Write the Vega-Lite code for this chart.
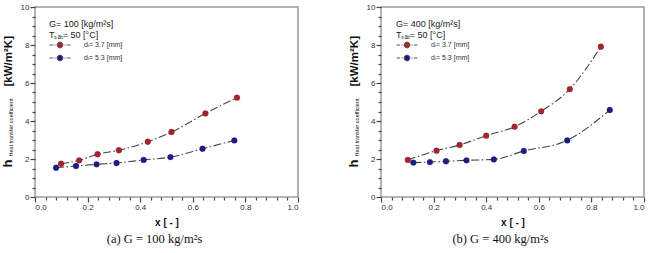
{
  "$schema": "https://vega.github.io/schema/vega-lite/v6.json",
  "background": "white",
  "padding": {"left": 0, "top": 2, "right": 4, "bottom": 2},
  "spacing": 46,
  "resolve": {"scale": {"fill": "independent"}, "legend": {"fill": "independent"}},
  "config": {
    "font": "Liberation Sans",
    "view": {"stroke": "#9a9a9a", "strokeWidth": 1.5},
    "axis": {"grid": false, "domain": false, "ticks": true, "tickColor": "#444", "tickWidth": 1.2, "tickOpacity": 1, "labelColor": "#333", "labelFontSize": 8, "titleColor": "#111"}
  },
  "datasets": {
    "g100": [
      {"d": "3.7", "x": 0.099, "h": 1.75}, {"d": "3.7", "x": 0.168, "h": 1.93}, {"d": "3.7", "x": 0.238, "h": 2.25}, {"d": "3.7", "x": 0.319, "h": 2.46},
      {"d": "3.7", "x": 0.429, "h": 2.91}, {"d": "3.7", "x": 0.519, "h": 3.42}, {"d": "3.7", "x": 0.648, "h": 4.40}, {"d": "3.7", "x": 0.768, "h": 5.23},
      {"d": "5.3", "x": 0.080, "h": 1.54}, {"d": "5.3", "x": 0.156, "h": 1.63}, {"d": "5.3", "x": 0.234, "h": 1.72}, {"d": "5.3", "x": 0.310, "h": 1.79},
      {"d": "5.3", "x": 0.413, "h": 1.95}, {"d": "5.3", "x": 0.515, "h": 2.10}, {"d": "5.3", "x": 0.637, "h": 2.54}, {"d": "5.3", "x": 0.758, "h": 2.98}
    ],
    "g400": [
      {"d": "3.7", "x": 0.102, "h": 1.95}, {"d": "3.7", "x": 0.211, "h": 2.44}, {"d": "3.7", "x": 0.299, "h": 2.74}, {"d": "3.7", "x": 0.400, "h": 3.23},
      {"d": "3.7", "x": 0.508, "h": 3.70}, {"d": "3.7", "x": 0.609, "h": 4.51}, {"d": "3.7", "x": 0.718, "h": 5.68}, {"d": "3.7", "x": 0.836, "h": 7.91},
      {"d": "5.3", "x": 0.123, "h": 1.81}, {"d": "5.3", "x": 0.186, "h": 1.84}, {"d": "5.3", "x": 0.247, "h": 1.88}, {"d": "5.3", "x": 0.325, "h": 1.93},
      {"d": "5.3", "x": 0.429, "h": 1.98}, {"d": "5.3", "x": 0.543, "h": 2.42}, {"d": "5.3", "x": 0.708, "h": 2.98}, {"d": "5.3", "x": 0.870, "h": 4.58}
    ]
  },
  "hconcat": [
    {
      "width": 263,
      "height": 190,
      "data": {"name": "g100"},
      "title": {"text": "(a) G = 100 kg/m²s", "orient": "bottom", "anchor": "middle", "dx": -12, "offset": 6, "font": "Liberation Serif", "fontSize": 12.5, "fontWeight": "normal", "color": "#111"},
      "resolve": {"axis": {"x": "independent", "y": "independent"}},
      "layer": [
        {
          "mark": {"type": "line", "interpolate": "monotone", "color": "#444", "strokeWidth": 1.1, "strokeDash": [8, 2.5, 1.5, 2.5]},
          "encoding": {
            "detail": {"field": "d", "type": "nominal"},
            "x": {"field": "x", "type": "quantitative", "scale": {"domain": [0, 1], "nice": false},
              "axis": {"orient": "bottom", "values": [0, 0.2, 0.4, 0.6, 0.8, 1.0], "format": ".1f", "ticks": true, "tickSize": 5, "labelPadding": 1,
                "title": "x [ - ]", "titleFontSize": 10, "titleFontWeight": "bold", "titlePadding": 6}},
            "y": {"field": "h", "type": "quantitative", "scale": {"domain": [0, 10], "nice": false},
              "axis": {"orient": "left", "values": [0, 2, 4, 6, 8, 10], "format": "d", "ticks": true, "tickSize": 5, "labelPadding": 1,
                "title": "[kW/m²K]", "titleFontSize": 11.5, "titleFontWeight": "bold", "titleAngle": -90, "titleAlign": "left", "titleBaseline": "alphabetic", "titleX": -24, "titleY": 79}}
          }
        },
        {
          "data": {"values": [{}]},
          "mark": {"type": "text", "align": "left", "baseline": "top", "fontSize": 9, "lineHeight": 11, "color": "#222", "text": ["G= 100 [kg/m²s]", "Tₛₐₜ= 50 [°C]"]},
          "encoding": {
            "x": {"datum": 0.053, "type": "quantitative", "axis": null},
            "y": {"datum": 9.3, "type": "quantitative", "axis": null}
          }
        },
        {
          "mark": {"type": "point", "filled": true, "shape": "circle", "size": 34, "opacity": 1},
          "encoding": {
            "x": {"field": "x", "type": "quantitative",
              "axis": {"orient": "bottom", "values": [0.04, 0.08, 0.12, 0.16, 0.24, 0.28, 0.32, 0.36, 0.44, 0.48, 0.52, 0.56, 0.64, 0.68, 0.72, 0.76, 0.84, 0.88, 0.92, 0.96], "labels": false, "ticks": true, "tickSize": 3, "title": null}},
            "y": {"field": "h", "type": "quantitative",
              "axis": {"orient": "left", "values": [0.5, 1, 1.5, 2.5, 3, 3.5, 4.5, 5, 5.5, 6.5, 7, 7.5, 8.5, 9, 9.5], "labels": false, "ticks": true, "tickSize": 3,
                "title": "h", "titleFontSize": 13, "titleFontWeight": "bold", "titleAngle": -90, "titleAlign": "left", "titleBaseline": "alphabetic", "titleX": -24, "titleY": 160}},
            "fill": {"field": "d", "type": "nominal", "scale": {"domain": ["3.7", "5.3"], "range": ["#b0202a", "#1b1b8e"]},
              "legend": {"orient": "none", "legendX": 14, "legendY": 32, "title": null,
                "labelExpr": "'dᵢ= ' + datum.label + ' [mm]'", "labelFontSize": 7, "labelColor": "#333", "symbolOffset": 5, "labelOffset": 18, "rowPadding": 2,
                "symbolType": "M-2,0L-1.3,0M-1.05,0L-0.85,0M0.85,0L1.05,0M1.3,0L2,0M0.55,0A0.55,0.55,0,1,1,-0.55,0A0.55,0.55,0,1,1,0.55,0Z", "symbolSize": 110, "symbolStrokeColor": "#555", "symbolStrokeWidth": 1}}
          }
        },
        {
          "mark": {"type": "point", "filled": false, "shape": "circle", "size": 34, "stroke": "#222", "strokeOpacity": 0.45, "strokeWidth": 0.8},
          "encoding": {
            "x": {"field": "x", "type": "quantitative", "axis": null},
            "y": {"field": "h", "type": "quantitative",
              "axis": {"orient": "left", "labels": false, "ticks": false, "values": [],
                "title": "Heat transfer coefficient", "titleFontSize": 5.5, "titleFontWeight": "normal", "titleAngle": -90, "titleAlign": "left", "titleBaseline": "alphabetic", "titleX": -22.5, "titleY": 149}}
          }
        }
      ]
    },
    {
      "width": 263,
      "height": 190,
      "data": {"name": "g400"},
      "title": {"text": "(b) G = 400 kg/m²s", "orient": "bottom", "anchor": "middle", "dx": -12, "offset": 6, "font": "Liberation Serif", "fontSize": 12.5, "fontWeight": "normal", "color": "#111"},
      "resolve": {"axis": {"x": "independent", "y": "independent"}},
      "layer": [
        {
          "mark": {"type": "line", "interpolate": "monotone", "color": "#444", "strokeWidth": 1.1, "strokeDash": [8, 2.5, 1.5, 2.5]},
          "encoding": {
            "detail": {"field": "d", "type": "nominal"},
            "x": {"field": "x", "type": "quantitative", "scale": {"domain": [0, 1], "nice": false},
              "axis": {"orient": "bottom", "values": [0, 0.2, 0.4, 0.6, 0.8, 1.0], "format": ".1f", "ticks": true, "tickSize": 5, "labelPadding": 1,
                "title": "x [ - ]", "titleFontSize": 10, "titleFontWeight": "bold", "titlePadding": 6}},
            "y": {"field": "h", "type": "quantitative", "scale": {"domain": [0, 10], "nice": false},
              "axis": {"orient": "left", "values": [0, 2, 4, 6, 8, 10], "format": "d", "ticks": true, "tickSize": 5, "labelPadding": 1,
                "title": "[kW/m²K]", "titleFontSize": 11.5, "titleFontWeight": "bold", "titleAngle": -90, "titleAlign": "left", "titleBaseline": "alphabetic", "titleX": -24, "titleY": 79}}
          }
        },
        {
          "data": {"values": [{}]},
          "mark": {"type": "text", "align": "left", "baseline": "top", "fontSize": 9, "lineHeight": 11, "color": "#222", "text": ["G= 400 [kg/m²s]", "Tₛₐₜ= 50 [°C]"]},
          "encoding": {
            "x": {"datum": 0.057, "type": "quantitative", "axis": null},
            "y": {"datum": 9.3, "type": "quantitative", "axis": null}
          }
        },
        {
          "mark": {"type": "point", "filled": true, "shape": "circle", "size": 34, "opacity": 1},
          "encoding": {
            "x": {"field": "x", "type": "quantitative",
              "axis": {"orient": "bottom", "values": [0.04, 0.08, 0.12, 0.16, 0.24, 0.28, 0.32, 0.36, 0.44, 0.48, 0.52, 0.56, 0.64, 0.68, 0.72, 0.76, 0.84, 0.88, 0.92, 0.96], "labels": false, "ticks": true, "tickSize": 3, "title": null}},
            "y": {"field": "h", "type": "quantitative",
              "axis": {"orient": "left", "values": [0.5, 1, 1.5, 2.5, 3, 3.5, 4.5, 5, 5.5, 6.5, 7, 7.5, 8.5, 9, 9.5], "labels": false, "ticks": true, "tickSize": 3,
                "title": "h", "titleFontSize": 13, "titleFontWeight": "bold", "titleAngle": -90, "titleAlign": "left", "titleBaseline": "alphabetic", "titleX": -24, "titleY": 160}},
            "fill": {"field": "d", "type": "nominal", "scale": {"domain": ["3.7", "5.3"], "range": ["#b0202a", "#1b1b8e"]},
              "legend": {"orient": "none", "legendX": 15, "legendY": 32, "title": null,
                "labelExpr": "'dᵢ= ' + datum.label + ' [mm]'", "labelFontSize": 7, "labelColor": "#333", "symbolOffset": 5, "labelOffset": 18, "rowPadding": 2,
                "symbolType": "M-2,0L-1.3,0M-1.05,0L-0.85,0M0.85,0L1.05,0M1.3,0L2,0M0.55,0A0.55,0.55,0,1,1,-0.55,0A0.55,0.55,0,1,1,0.55,0Z", "symbolSize": 110, "symbolStrokeColor": "#555", "symbolStrokeWidth": 1}}
          }
        },
        {
          "mark": {"type": "point", "filled": false, "shape": "circle", "size": 34, "stroke": "#222", "strokeOpacity": 0.45, "strokeWidth": 0.8},
          "encoding": {
            "x": {"field": "x", "type": "quantitative", "axis": null},
            "y": {"field": "h", "type": "quantitative",
              "axis": {"orient": "left", "labels": false, "ticks": false, "values": [],
                "title": "Heat transfer coefficient", "titleFontSize": 5.5, "titleFontWeight": "normal", "titleAngle": -90, "titleAlign": "left", "titleBaseline": "alphabetic", "titleX": -22.5, "titleY": 149}}
          }
        }
      ]
    }
  ]
}
